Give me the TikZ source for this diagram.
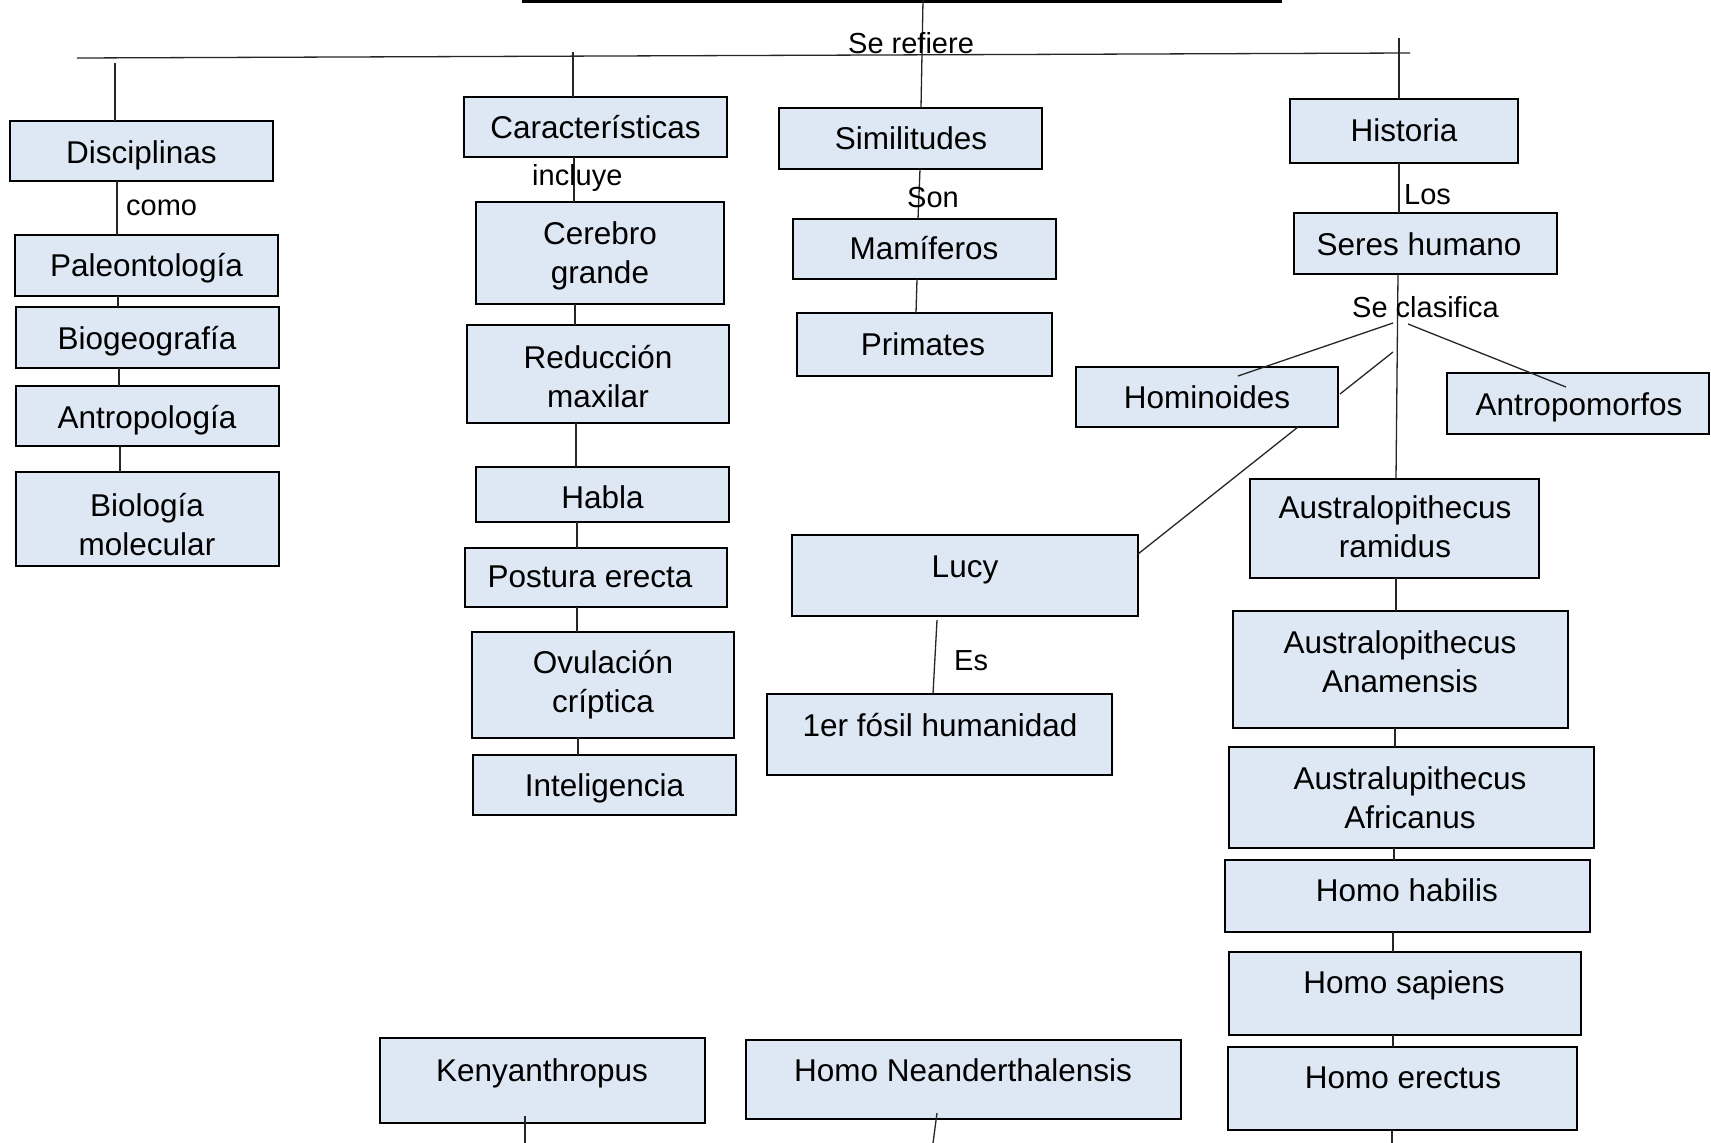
\documentclass[tikz,border=0pt]{standalone}
\usepackage{fontspec}
\setmainfont{Liberation Sans}
\usetikzlibrary{calc}
\definecolor{boxfill}{HTML}{DDE8F4}
\definecolor{lineclr}{HTML}{262626}
\tikzset{
  bx/.style={draw=black, line width=2.2pt, fill=boxfill, inner sep=0pt, outer sep=0pt},
  bt/.style={font=\fontsize{31.5}{39}\selectfont, align=center, anchor=base, inner sep=0pt},
  lab/.style={font=\fontsize{29}{34}\selectfont, anchor=base west, inner sep=0pt},
  cn/.style={draw=lineclr, line width=1.3pt},
}
\newcommand\cbox[8]{%
  \node[bx, minimum width={(#4)-(#2)}, minimum height={(#5)-(#3)}] (#1) at ({((#2)+(#4))/2},{((#3)+(#5))/2}) {};
  \node[bt] (#1-t) at (#6,#7) {#8};}
\begin{document}
\begin{tikzpicture}[x=1pt, y=-1pt]
\useasboundingbox[fill=white] (0,0) rectangle (1711,1143);

% top bar (bottom edge of title box)
\coordinate (tbl) at (522,1.5);
\coordinate (tbr) at (1282,1.5);
\draw[line width=3pt] (tbl) -- (tbr);

% main horizontal line
\coordinate (ml) at (77,58);
\coordinate (mr) at (1410,53);
\draw[cn] (ml) -- (mr);

% boxes (multi-line texts are placed by the baseline of their last line)
\cbox{disc}{10}{121}{273}{181}{141.5}{163}{Disciplinas}
\cbox{paleo}{15}{235}{278}{296}{146.5}{276}{Paleontología}
\cbox{biogeo}{16}{307}{279}{368}{147}{349}{Biogeografía}
\cbox{antrop}{16}{386}{279}{446}{147}{428}{Antropología}
\cbox{biomol}{16}{472}{279}{566}{147}{555}{Biología\\molecular}

\cbox{carac}{464}{97}{727}{157}{595.5}{138}{Características}
\cbox{cereb}{476}{202}{724}{304}{600}{283}{Cerebro\\grande}
\cbox{reduc}{467}{325}{729}{423}{598}{407}{Reducción\\maxilar}
\cbox{habla}{476}{467}{729}{522}{602.5}{508}{Habla}
\cbox{post}{465}{548}{727}{607}{590}{587}{Postura erecta}
\cbox{ovul}{472}{632}{734}{738}{603}{712}{Ovulación\\críptica}
\cbox{intel}{473}{755}{736}{815}{604.5}{796}{Inteligencia}

\cbox{simil}{779}{108}{1042}{169}{911}{149}{Similitudes}
\cbox{mamif}{793}{219}{1056}{279}{924}{259}{Mamíferos}
\cbox{prim}{797}{313}{1052}{376}{923}{355}{Primates}

\cbox{hist}{1290}{99}{1518}{163}{1404}{141}{Historia}
\cbox{seres}{1294}{213}{1557}{274}{1419}{255}{Seres humano}
\cbox{homin}{1076}{367}{1338}{427}{1207}{408}{Hominoides}
\cbox{antro}{1447}{373}{1709}{434}{1579}{415}{Antropomorfos}

\cbox{lucy}{792}{535}{1138}{616}{965}{577}{Lucy}
\cbox{fosil}{767}{694}{1112}{775}{940}{736}{1er fósil humanidad}

\cbox{ramid}{1250}{479}{1539}{578}{1395}{557}{Australopithecus\\ramidus}
\cbox{anam}{1233}{611}{1568}{728}{1400}{692}{Australopithecus\\Anamensis}
\cbox{afric}{1229}{747}{1594}{848}{1410}{828}{Australupithecus\\Africanus}
\cbox{habil}{1225}{860}{1590}{932}{1407}{901}{Homo habilis}
\cbox{sapi}{1229}{952}{1581}{1035}{1404}{993}{Homo sapiens}
\cbox{erect}{1228}{1047}{1577}{1130}{1403}{1088}{Homo erectus}

\cbox{keny}{380}{1038}{705}{1123}{542}{1081}{Kenyanthropus}
\cbox{neand}{746}{1040}{1181}{1119}{963}{1081}{Homo Neanderthalensis}

% free ends
\coordinate (tv) at (923,0);
\coordinate (dv) at (115,63);
\coordinate (cv) at (573,52);
\coordinate (hv) at (1399,38);
\coordinate (sc1) at (1393,323);
\coordinate (sc2) at (1393,352);
\coordinate (sc3) at (1408,324);
\coordinate (kb) at (525,1143);
\coordinate (nb) at (933,1143);
\coordinate (eb) at (1392,1143);

% connectors from main line
\draw[cn] (tv) -- (921,0 |- simil.north);
\draw[cn] (dv) -- (115,0 |- disc.north);
\draw[cn] (cv) -- (573,0 |- carac.north);
\draw[cn] (hv) -- (1399,0 |- hist.north);

% Disciplinas column
\draw[cn] (117,0 |- disc.south) -- (117,0 |- paleo.north);
\draw[cn] (118,0 |- paleo.south) -- (118,0 |- biogeo.north);
\draw[cn] (119,0 |- biogeo.south) -- (119,0 |- antrop.north);
\draw[cn] (120,0 |- antrop.south) -- (120,0 |- biomol.north);

% Caracteristicas column
\draw[cn] (574,0 |- carac.south) -- (574,0 |- cereb.north);
\draw[cn] (575,0 |- cereb.south) -- (575,0 |- reduc.north);
\draw[cn] (576,0 |- reduc.south) -- (576,0 |- habla.north);
\draw[cn] (577,0 |- habla.south) -- (577,0 |- post.north);
\draw[cn] (577,0 |- post.south) -- (577,0 |- ovul.north);
\draw[cn] (578,0 |- ovul.south) -- (578,0 |- intel.north);

% Similitudes column
\draw[cn] (920,0 |- simil.south) -- (918,0 |- mamif.north);
\draw[cn] (917,0 |- mamif.south) -- (916,0 |- prim.north);

% Historia column
\draw[cn] (1399,0 |- hist.south) -- (1399,0 |- seres.north);
\draw[cn] (1398,0 |- seres.south) -- (1396,0 |- ramid.north);
\draw[cn] (1396,0 |- ramid.south) -- (1396,0 |- anam.north);
\draw[cn] (1395,0 |- anam.south) -- (1395,0 |- afric.north);
\draw[cn] (1394,0 |- afric.south) -- (1394,0 |- habil.north);
\draw[cn] (1393,0 |- habil.south) -- (1393,0 |- sapi.north);
\draw[cn] (1393,0 |- sapi.south) -- (1393,0 |- erect.north);
\draw[cn] (1392,0 |- erect.south) -- (eb);

% Se clasifica branches
\draw[cn] (sc1) -- ($(homin.north)+(31,9)$);
\draw[cn] (sc2) -- ($(homin.east)+(2,-3)$);
\draw[cn] (sc3) -- ($(antro.north)+(-12,14)$);
\draw[cn] ($(homin.south)+(91,0)$) -- ($(lucy.north east)+(0,19)$);
\draw[cn] ($(lucy.south)+(-28,4)$) -- (933,0 |- fosil.north);

% bottom stubs
\draw[cn] ($(keny.south)+(-17.5,-7)$) -- (kb);
\draw[cn] ($(neand.south)+(-26.5,-6)$) -- (nb);

% labels
\node[lab] (l-refiere) at (848,53) {Se refiere};
\node[lab] (l-como) at (126,215) {como};
\node[lab] (l-incluye) at (532,185) {incluye};
\node[lab] (l-son) at (907,207) {Son};
\node[lab] (l-los) at (1404,204) {Los};
\node[lab] (l-clasif) at (1352,317) {Se clasifica};
\node[lab] (l-es) at (954,670) {Es};
\end{tikzpicture}
\end{document}
